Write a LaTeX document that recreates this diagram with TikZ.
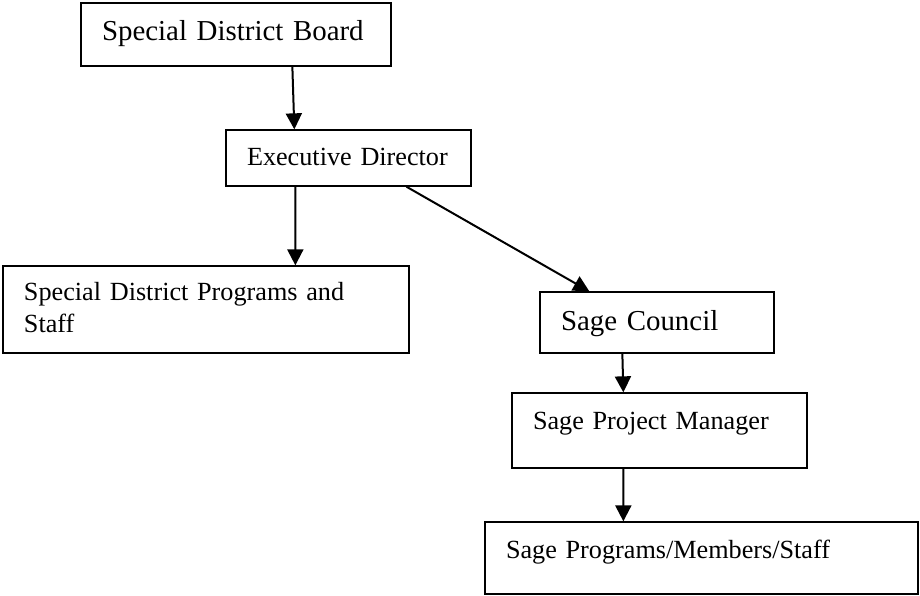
\documentclass[tikz,border=0pt]{standalone}
\usepackage{fontspec}
\setmainfont{Liberation Serif}
\usepackage{tikz}
\usetikzlibrary{arrows.meta}
\hyphenpenalty=10000
\exhyphenpenalty=10000

\begin{document}
\begin{tikzpicture}[->,x=1bp,y=-1bp,
  >={Triangle[length=16bp,width=16bp]},
  every path/.append style={line width=2bp}]
  \tikzstyle{box} = [draw,line width=1.3bp,align=left,inner xsep=21bp,inner ysep=0pt,
    font=\fontsize{26.2bp}{32bp}\selectfont,color=black]
  \tikzstyle{bigbox} = [box,font=\fontsize{28.9bp}{35bp}\selectfont]
  \useasboundingbox (0,0) rectangle (920,596);
  \node (1_1) [bigbox,text width=268bp,minimum height=63bp,text height=19bp,text depth=6bp] at (236,34.5) {Special District Board};
  \node (1_2) [box,text width=203bp,minimum height=56bp,text height=18bp,text depth=2bp] at (348.5,158) {Executive Director};
  \node (1_3) [box,text width=364bp,minimum height=87bp,text height=17bp,text depth=36bp] at (206,309.5) {Special District Programs and\\Staff};
  \node (1_4) [bigbox,text width=192bp,minimum height=61bp,text height=20bp,text depth=5bp] at (657,322.5) {Sage Council};
  \node (1_5) [box,text width=253bp,minimum height=75bp,text height=18bp,text depth=20bp] at (659.5,430.5) {Sage Project Manager};
  \node (1_6) [box,text width=391bp,minimum height=72bp,text height=18bp,text depth=18bp] at (701.5,558) {Sage Programs/Members/Staff};
  \draw ([xshift=212bp]1_1.south west) -- ([xshift=69bp]1_2.north west);
  \draw ([xshift=70bp]1_2.south west) -- ([xshift=293bp]1_3.north west);
  \draw ([xshift=181bp]1_2.south west) -- ([xshift=50bp]1_4.north west);
  \draw ([xshift=83bp]1_4.south west) -- ([xshift=112bp]1_5.north west);
  \draw ([xshift=112bp]1_5.south west) -- ([xshift=139bp]1_6.north west);
\end{tikzpicture}
\end{document}
